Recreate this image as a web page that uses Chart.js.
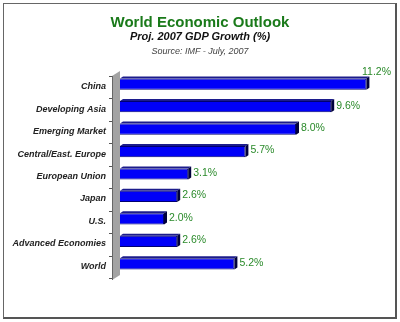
<!DOCTYPE html>
<html>
<head>
<meta charset="utf-8">
<script src="https://cdn.jsdelivr.net/npm/chart.js@4"></script>
<style>
  body { margin: 0; background: #fff; }
  #frame { position: relative; width: 400px; height: 322px; overflow: hidden; }
  #border {
    position: absolute; left: 3px; top: 3px; width: 391px; height: 313px;
    border: 1px solid #666; border-right: 2px solid #555; border-bottom: 2px solid #555;
  }
  canvas { position: absolute; left: 0; top: 0; }
  .t { position: absolute; left: 0; width: 400px; text-align: center; font-family: "Liberation Sans", Arial, sans-serif; white-space: nowrap; }
  #title { top: 13px; font-size: 15px; font-weight: bold; color: #1a7a1a; }
  #subtitle { top: 30px; font-size: 11px; font-weight: bold; font-style: italic; color: #111; }
  #source { top: 46px; font-size: 9px; font-style: italic; color: #444; }
</style>
</head>
<body>
<div id="frame">
  <div id="border"></div>
  <canvas id="chart" width="400" height="322"></canvas>
  <div class="t" id="title">World Economic Outlook</div>
  <div class="t" id="subtitle">Proj. 2007 GDP Growth (%)</div>
  <div class="t" id="source">Source: IMF - July, 2007</div>
</div>
<script>
const categories = [
  "China", "Developing Asia", "Emerging Market", "Central/East. Europe",
  "European Union", "Japan", "U.S.", "Advanced Economies", "World"
];
const growth = [11.2, 9.6, 8.0, 5.7, 3.1, 2.6, 2.0, 2.6, 5.2];
const valueLabels = growth.map(v => v.toFixed(1) + "%");

const DEPTH = 3;

// gray 3D wall behind the category axis, with small tick dashes
const wallPlugin = {
  id: "wall",
  beforeDatasetsDraw(chart) {
    const { ctx, chartArea } = chart;
    const L = chartArea.left, top = chartArea.top, bottom = chartArea.bottom;
    ctx.save();
    ctx.fillStyle = "#a3a3a3";
    ctx.beginPath();
    ctx.moveTo(L - 8, top + 3);
    ctx.lineTo(L, top - 2);
    ctx.lineTo(L, bottom);
    ctx.lineTo(L - 8, bottom + 5);
    ctx.closePath();
    ctx.fill();
    ctx.strokeStyle = "#666";
    ctx.lineWidth = 1;
    ctx.beginPath();
    ctx.moveTo(L - 7.5, top + 3);
    ctx.lineTo(L - 7.5, bottom + 5);
    ctx.stroke();
    ctx.strokeStyle = "#555";
    for (let i = 0; i <= categories.length; i++) {
      const py = Math.round(top + (bottom - top) * i / categories.length) + 0.5;
      ctx.beginPath();
      ctx.moveTo(L - 11, py + 3);
      ctx.lineTo(L - 8, py + 3);
      ctx.stroke();
    }
    ctx.restore();
  }
};

// bar depth faces and green value labels
const barPlugin = {
  id: "bar3d",
  afterDatasetsDraw(chart) {
    const { ctx } = chart;
    const meta = chart.getDatasetMeta(0);
    ctx.save();
    meta.data.forEach((bar, i) => {
      const h = bar.height / 2;
      const top = bar.y - h, bot = bar.y + h;
      const x = bar.x, base = bar.base;
      ctx.fillStyle = "#1c1c8c";
      ctx.beginPath();
      ctx.moveTo(base, top);
      ctx.lineTo(base + DEPTH, top - 2);
      ctx.lineTo(x + DEPTH, top - 2);
      ctx.lineTo(x, top);
      ctx.closePath();
      ctx.fill();
      ctx.fillStyle = "#00003c";
      ctx.beginPath();
      ctx.moveTo(x, top);
      ctx.lineTo(x + DEPTH, top - 2);
      ctx.lineTo(x + DEPTH, bot - 2);
      ctx.lineTo(x, bot);
      ctx.closePath();
      ctx.fill();

      ctx.font = "10.5px 'Liberation Sans', Arial, sans-serif";
      ctx.fillStyle = "#2a8a2a";
      ctx.textBaseline = "middle";
      const text = valueLabels[i];
      const w = ctx.measureText(text).width;
      if (x + DEPTH + 4 + w > 394) {
        ctx.textAlign = "right";
        ctx.fillText(text, 391, bar.y - 12);
      } else {
        ctx.textAlign = "left";
        ctx.fillText(text, x + DEPTH + 2, bar.y - 1);
      }
    });
    ctx.restore();
  }
};

new Chart(document.getElementById("chart"), {
  type: "bar",
  data: {
    labels: categories,
    datasets: [{
      data: growth,
      backgroundColor: "#0000f8",
      borderColor: "#000070",
      borderWidth: 1,
      borderSkipped: "left",
      barPercentage: 0.5,
      categoryPercentage: 1
    }]
  },
  options: {
    indexAxis: "y",
    responsive: false,
    animation: false,
    layout: { padding: { top: 73, bottom: 47, left: 0, right: 16 } },
    scales: {
      x: { display: false, min: 0, max: 12 },
      y: {
        grid: { display: false, drawTicks: false },
        border: { display: false },
        afterFit(scale) { scale.width = 120; },
        ticks: {
          padding: 14,
          labelOffset: 2.5,
          color: "#222",
          font: { family: "'Liberation Sans', Arial, sans-serif", size: 9, weight: "bold", style: "italic" }
        }
      }
    },
    plugins: {
      legend: { display: false },
      tooltip: { enabled: false }
    }
  },
  plugins: [wallPlugin, barPlugin]
});
</script>
</body>
</html>
